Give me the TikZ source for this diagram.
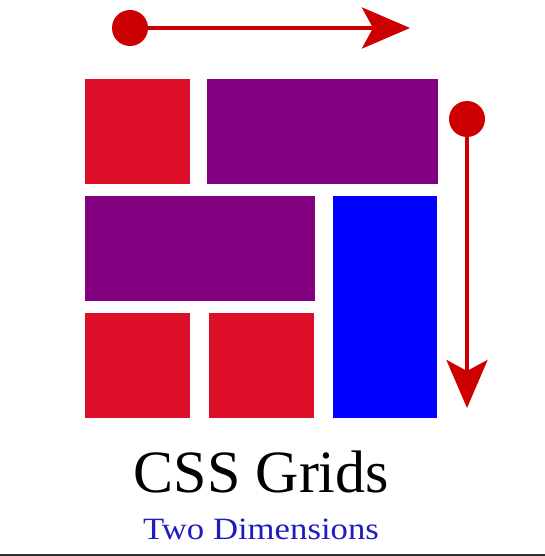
\documentclass[tikz,border=0pt]{standalone}
\usepackage{fontspec}
\setmainfont{Liberation Serif}
\usetikzlibrary{arrows.meta,positioning,calc}
\definecolor{cellred}{RGB}{220,14,40}
\definecolor{cellpurple}{RGB}{128,0,128}
\definecolor{cellblue}{RGB}{0,0,255}
\definecolor{arrowred}{RGB}{204,0,0}
\definecolor{subblue}{RGB}{30,30,190}
\definecolor{edgegrey}{RGB}{50,50,50}
\tikzset{
  cell/.style={draw=none,inner sep=0pt,outer sep=0pt,anchor=north west},
  redcell/.style={cell,fill=cellred},
  purplecell/.style={cell,fill=cellpurple},
  bluecell/.style={cell,fill=cellblue},
  dot/.style={circle,fill=arrowred,draw=none,minimum size=36pt,inner sep=0pt},
  track/.style={-{Stealth[length=48pt,width=41pt,inset=11pt]},draw=arrowred,
                line width=4pt},
}

\begin{document}
\begin{tikzpicture}[x=1pt,y=-1pt]
  \useasboundingbox[fill=white] (0,0) rectangle (545,556);
  % grid items
  \node[redcell,minimum width=105pt,minimum height=105pt] (itemA) at (85,79) {};
  \node[purplecell,minimum width=231pt,minimum height=105pt] (itemB) at (207,79) {};
  \node[purplecell,minimum width=230pt,minimum height=105pt] (itemC) at (85,196) {};
  \node[bluecell,minimum width=104pt,minimum height=222pt] (itemD) at (333,196) {};
  \node[redcell,minimum width=105pt,minimum height=105pt] (itemE) at (85,313) {};
  \node[redcell,minimum width=105pt,minimum height=105pt] (itemF) at (209,313) {};
  % axis arrows
  \node[dot] (rowdot) at (130,28) {};
  \coordinate (rowtip) at (410,28);
  \draw[track] (rowdot.center) -- (rowtip);
  \node[dot] (coldot) at (467,119) {};
  \coordinate (coltip) at (467,408);
  \draw[track] (coldot.center) -- (coltip);
  % captions
  \node[anchor=base,inner sep=0pt,font=\fontsize{60}{60}\selectfont] (title)
    at (261.5,492) {CSS Grids};
  \node[anchor=base,inner sep=0pt,text=subblue,font=\fontsize{31}{31}\selectfont]
    (subtitle) at (261,539) {\scalebox{1.12}[1]{Two Dimensions}};
  % bottom edge
  \fill[edgegrey] (0,553.5) rectangle (545,556);
\end{tikzpicture}
\end{document}
